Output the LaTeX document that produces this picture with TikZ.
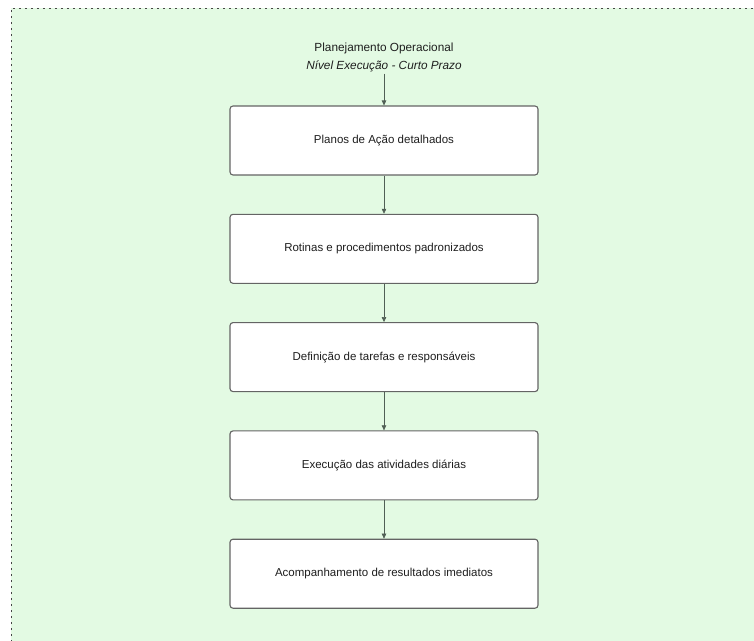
\documentclass[tikz,border=0pt]{standalone}
\usepackage{fontspec}
\setmainfont{Liberation Sans}
\usetikzlibrary{arrows.meta,positioning}
\definecolor{panelbg}{RGB}{227, 250, 227}
\definecolor{panelborder}{RGB}{70, 70, 70}
\definecolor{boxborder}{RGB}{100, 100, 100}
\definecolor{flowline}{RGB}{80, 95, 85}
\definecolor{inktext}{RGB}{30, 30, 30}

\begin{document}
\begin{tikzpicture}[
  x=1pt, y=-1pt,
  node distance=38.2pt,
  stagebox/.style={
    draw=boxborder,
    fill=white,
    rounded corners=3pt,
    line width=1.1pt,
    minimum width=308pt,
    minimum height=69pt,
    align=center,
    text=inktext,
    font=\fontsize{11.5}{14}\selectfont
  },
  flow/.style={
    -{Triangle[length=5pt,width=4.5pt]},
    draw=flowline,
    line width=0.6pt
  }
]

  \useasboundingbox (0,0) rectangle (754,640);

  % Panel background
  \begin{scope}
    \clip (0,0) rectangle (754,640);
    \fill[panelbg] (11,8) rectangle (770,660);
    \draw[panelborder, line width=0.9pt, dash pattern=on 2pt off 4pt] (11,660) -- (11,8) -- (770,8);
  \end{scope}

  % Heading
  \node[align=center, text=inktext, inner sep=2pt, font=\fontsize{11.8}{18}\selectfont] (title) at (384,57)
    {Planejamento Operacional\\\textit{Nível Execução - Curto Prazo}};

  % Stages
  \node[stagebox] (s1) at (384,140.5) {Planos de Ação detalhados};
  \node[stagebox, below=of s1] (s2) {Rotinas e procedimentos padronizados};
  \node[stagebox, below=of s2] (s3) {Definição de tarefas e responsáveis};
  \node[stagebox, below=of s3] (s4) {Execução das atividades diárias};
  \node[stagebox, below=of s4] (s5) {Acompanhamento de resultados imediatos};

  \draw[flow] (title.south) -- (s1.north);
  \draw[flow] (s1.south) -- (s2.north);
  \draw[flow] (s2.south) -- (s3.north);
  \draw[flow] (s3.south) -- (s4.north);
  \draw[flow] (s4.south) -- (s5.north);

\end{tikzpicture}
\end{document}
